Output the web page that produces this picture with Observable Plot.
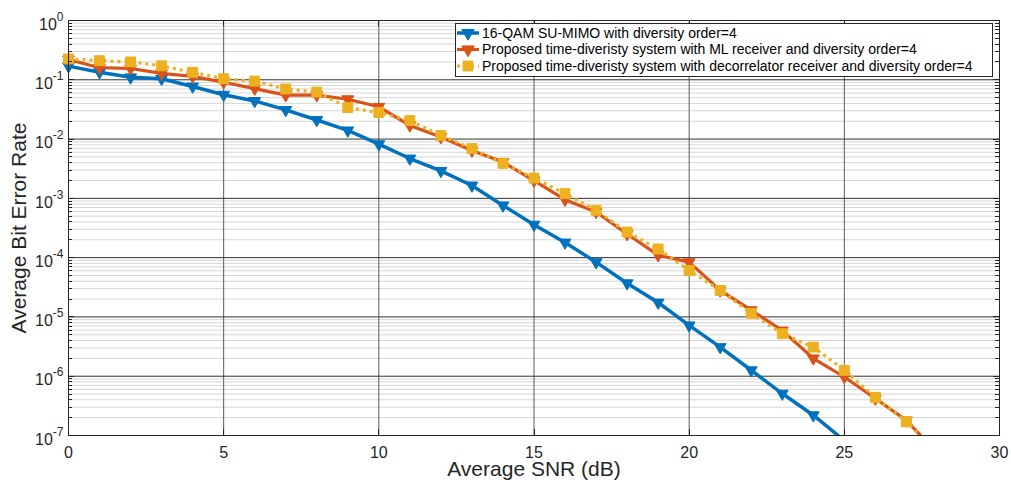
<!DOCTYPE html>
<html>
<head>
<meta charset="utf-8">
<script src="https://cdn.jsdelivr.net/npm/d3@7"></script>
<script src="https://cdn.jsdelivr.net/npm/@observablehq/plot@0.6"></script>
<style>
  html, body { margin: 0; padding: 0; background: #ffffff; }
  #chart { width: 1011px; height: 486px; }
</style>
</head>
<body>
<div id="chart"></div>
<script>
// ---------- data ----------
const seriesNames = [
  "16-QAM SU-MIMO with diversity order=4",
  "Proposed time-diveristy system with ML receiver and diversity order=4",
  "Proposed time-diveristy system with decorrelator receiver and diversity order=4"
];
const seriesColors = ["#0072BD", "#D95319", "#EDB120"];

const snrSU  = [0,1,2,3,4,5,6,7,8,9,10,11,12,13,14,15,16,17,18,19,20,21,22,23,24,25];
const berSU  = [0.17, 0.134, 0.11, 0.104, 0.077, 0.056, 0.044, 0.031, 0.021, 0.014,
                0.0082, 0.0047, 0.0029, 0.00165, 0.00076, 0.00036, 0.00018, 8.4e-5, 3.7e-5, 1.75e-5,
                7.2e-6, 3.1e-6, 1.26e-6, 5.1e-7, 2.2e-7, 8.2e-8];

const snrML  = [0,1,2,3,4,5,6,7,8,9,10,11,12,13,14,15,16,17,18,19,20,21,22,23,24,25,26,27,28];
const berML  = [0.22, 0.16, 0.155, 0.128, 0.114, 0.091, 0.071, 0.055, 0.055, 0.047,
                0.035, 0.017, 0.0108, 0.0064, 0.0041, 0.002, 0.00095, 0.00059, 2.5e-4, 1.1e-4,
                8.4e-5, 2.8e-5, 1.3e-5, 5.9e-6, 2.0e-6, 9.7e-7, 4.2e-7, 1.8e-7, 5e-8];

const snrDec = [0,1,2,3,4,5,6,7,8,9,10,11,12,13,14,15,16,17,18,19,20,21,22,23,24,25,26,27,28];
const berDec = [0.225, 0.21, 0.2, 0.172, 0.134, 0.104, 0.095, 0.07, 0.062, 0.034,
                0.028, 0.0205, 0.0115, 0.0069, 0.0039, 0.0022, 0.0012, 0.00063, 2.7e-4, 1.4e-4,
                6.1e-5, 2.8e-5, 1.15e-5, 5.2e-6, 3.1e-6, 1.26e-6, 4.4e-7, 1.7e-7, 5e-8];

const xTicks = [0, 5, 10, 15, 20, 25, 30];
const xGrid  = [5, 10, 15, 20, 25];
const yTicks = [1e-7, 1e-6, 1e-5, 1e-4, 1e-3, 1e-2, 1e-1, 1];
const yMinorMultipliers = [2, 3, 4, 5, 6, 7, 8, 9];

const xLabel = "Average SNR (dB)";
const yLabel = "Average Bit Error Rate";

// ---------- build tables ----------
const toRows = (xv, yv) => xv.map((x, i) => ({snr: x, ber: yv[i]}));
const su  = toRows(snrSU, berSU);
const ml  = toRows(snrML, berML);
const dec = toRows(snrDec, berDec);
const visible = rows => rows.filter(d => d.ber >= 1e-7);

const yMinor = [];
for (const t of yTicks.slice(0, -1)) for (const m of yMinorMultipliers) yMinor.push(+(t * m).toPrecision(3));

const FONT = "'Liberation Sans', Arial, Helvetica, sans-serif";
const AX = "#262626";

const chart = Plot.plot({
  width: 1011,
  height: 486,
  marginLeft: 68,
  marginRight: 12,
  marginTop: 20,
  marginBottom: 51,
  style: {fontFamily: FONT, fontSize: "16px", color: AX, background: "#ffffff", overflow: "visible"},
  x: {domain: [0, 30]},
  y: {type: "log", domain: [1e-7, 1]},
  marks: [
    Plot.ruleY(yMinor, {stroke: "#d6d6d6", strokeWidth: 1}),
    Plot.ruleX(xGrid, {stroke: "#5a5a5a", strokeWidth: 1}),
    Plot.ruleY(yTicks, {stroke: "#303030", strokeWidth: 1}),
    Plot.axisX({ticks: xTicks, tickSize: 0, tickPadding: 11, label: null, tickFormat: d => String(d), fill: AX}),
    Plot.axisY({ticks: yTicks, tickSize: 0, tickPadding: 5, label: null,
                tickFormat: d => "10^" + Math.round(Math.log10(d)), fill: AX}),
    Plot.text([xLabel], {frameAnchor: "bottom", text: d => d, dy: 33.3, lineAnchor: "middle",
                         textAnchor: "middle", fontSize: 21, fill: AX}),
    Plot.text([yLabel], {frameAnchor: "left", text: d => d, rotate: -90, dx: -49.7, lineAnchor: "middle",
                         textAnchor: "middle", fontSize: 21, fill: AX}),
    Plot.line(su, {x: "snr", y: "ber", stroke: seriesColors[0], strokeWidth: 3.5, clip: true}),
    Plot.dot(visible(su), {x: "snr", y: "ber", symbol: "triangle", rotate: 180, r: 4.4,
                           fill: seriesColors[0], stroke: seriesColors[0], strokeWidth: 1}),
    Plot.line(ml, {x: "snr", y: "ber", stroke: seriesColors[1], strokeWidth: 3.2, clip: true}),
    Plot.dot(visible(ml), {x: "snr", y: "ber", symbol: "triangle", rotate: 180, r: 4.4,
                           fill: seriesColors[1], stroke: seriesColors[1], strokeWidth: 1}),
    Plot.line(dec, {x: "snr", y: "ber", stroke: seriesColors[2], strokeWidth: 3.2,
                    strokeDasharray: "3,4", strokeLinecap: "butt", clip: true}),
    Plot.dot(visible(dec), {x: "snr", y: "ber", symbol: "square", r: 5.6,
                            fill: seriesColors[2], stroke: seriesColors[2], strokeWidth: 1}),
    Plot.frame({stroke: AX, strokeWidth: 1})
  ]
});

document.getElementById("chart").appendChild(chart);

// ---------- post-processing: superscript tick labels, inward ticks, legend ----------
const svgSel = d3.select(chart);
const sx = chart.scale("x"), sy = chart.scale("y");
const fLeft = sx.apply(0), fRight = sx.apply(30), fTop = sy.apply(1), fBottom = sy.apply(1e-7);

svgSel.selectAll('g[aria-label="y-axis tick label"] text').each(function () {
  const s = this.textContent;
  const [base, exp] = s.split("^");
  const t = d3.select(this);
  t.text(null).attr("y", "0.58em");
  t.append("tspan").text(base);
  t.append("tspan").attr("dy", "-9px").attr("font-size", "12px").text(exp);
});

const tickG = svgSel.append("g").attr("stroke", AX).attr("stroke-width", 1);
for (const v of yTicks) {
  const yy = Math.round(sy.apply(v)) + 0.5;
  tickG.append("line").attr("x1", fLeft).attr("x2", fLeft + 6).attr("y1", yy).attr("y2", yy);
  tickG.append("line").attr("x1", fRight).attr("x2", fRight - 6).attr("y1", yy).attr("y2", yy);
}
for (const v of yMinor) {
  const yy = Math.round(sy.apply(v)) + 0.5;
  tickG.append("line").attr("x1", fLeft).attr("x2", fLeft + 4).attr("y1", yy).attr("y2", yy);
  tickG.append("line").attr("x1", fRight).attr("x2", fRight - 4).attr("y1", yy).attr("y2", yy);
}
for (const v of xTicks) {
  const xx = Math.round(sx.apply(v)) + 0.5;
  tickG.append("line").attr("x1", xx).attr("x2", xx).attr("y1", fBottom).attr("y2", fBottom - 6);
  tickG.append("line").attr("x1", xx).attr("x2", xx).attr("y1", fTop).attr("y2", fTop + 6);
}

const lg = svgSel.append("g").attr("font-family", FONT).attr("font-size", 14).attr("text-anchor", "start");
lg.append("rect").attr("x", 455.5).attr("y", 23.5).attr("width", 537).attr("height", 53)
  .attr("fill", "#ffffff").attr("stroke", AX).attr("stroke-width", 1);
const rowY = [33, 49.5, 66];
const triPath = d3.symbol(d3.symbolTriangle, Math.PI * 4.6 * 4.6)();
const sqPath = d3.symbol(d3.symbolSquare, Math.PI * 5.6 * 5.6)();
seriesNames.forEach((name, i) => {
  const cy = rowY[i];
  const ln = lg.append("line").attr("x1", 457).attr("x2", 479).attr("y1", cy).attr("y2", cy)
    .attr("stroke", seriesColors[i]).attr("stroke-width", i === 0 ? 3.5 : 3.2);
  if (i === 2) ln.attr("stroke-dasharray", "3,4");
  lg.append("path").attr("d", i === 2 ? sqPath : triPath)
    .attr("transform", `translate(468,${cy})` + (i === 2 ? "" : " rotate(180)"))
    .attr("fill", seriesColors[i]).attr("stroke", seriesColors[i]).attr("stroke-width", 1);
  lg.append("text").attr("x", 482).attr("y", cy).attr("dy", "0.35em")
    .attr("text-anchor", "start").attr("fill", "#000").text(name);
});
</script>
</body>
</html>
